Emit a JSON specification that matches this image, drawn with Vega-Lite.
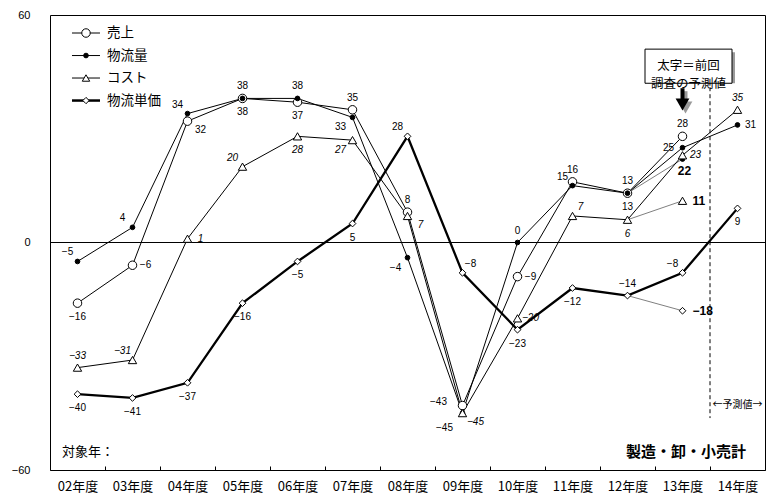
{
  "$schema": "https://vega.github.io/schema/vega-lite/v6.json",
  "width": 715,
  "height": 455,
  "autosize": {"type": "none"},
  "padding": {"left": 50, "top": 15, "right": 10, "bottom": 33},
  "background": "white",
  "config": {
    "view": {"stroke": "black", "strokeWidth": 1},
    "font": "Noto Sans CJK JP",
    "axis": {"grid": false, "domain": false, "title": null}
  },
  "data": {
    "values": [
      {"year": "02年度", "series": "売上", "value": -16, "kind": "今回"},
      {"year": "03年度", "series": "売上", "value": -6, "kind": "今回"},
      {"year": "04年度", "series": "売上", "value": 32, "kind": "今回"},
      {"year": "05年度", "series": "売上", "value": 38, "kind": "今回"},
      {"year": "06年度", "series": "売上", "value": 37, "kind": "今回"},
      {"year": "07年度", "series": "売上", "value": 35, "kind": "今回"},
      {"year": "08年度", "series": "売上", "value": 8, "kind": "今回"},
      {"year": "09年度", "series": "売上", "value": -43, "kind": "今回"},
      {"year": "10年度", "series": "売上", "value": -9, "kind": "今回"},
      {"year": "11年度", "series": "売上", "value": 16, "kind": "今回"},
      {"year": "12年度", "series": "売上", "value": 13, "kind": "今回"},
      {"year": "13年度", "series": "売上", "value": 28, "kind": "今回"},
      {"year": "02年度", "series": "物流量", "value": -5, "kind": "今回"},
      {"year": "03年度", "series": "物流量", "value": 4, "kind": "今回"},
      {"year": "04年度", "series": "物流量", "value": 34, "kind": "今回"},
      {"year": "05年度", "series": "物流量", "value": 38, "kind": "今回"},
      {"year": "06年度", "series": "物流量", "value": 38, "kind": "今回"},
      {"year": "07年度", "series": "物流量", "value": 33, "kind": "今回"},
      {"year": "08年度", "series": "物流量", "value": -4, "kind": "今回"},
      {"year": "09年度", "series": "物流量", "value": -45, "kind": "今回"},
      {"year": "10年度", "series": "物流量", "value": 0, "kind": "今回"},
      {"year": "11年度", "series": "物流量", "value": 15, "kind": "今回"},
      {"year": "12年度", "series": "物流量", "value": 13, "kind": "今回"},
      {"year": "13年度", "series": "物流量", "value": 25, "kind": "今回"},
      {"year": "14年度", "series": "物流量", "value": 31, "kind": "今回"},
      {"year": "02年度", "series": "コスト", "value": -33, "kind": "今回"},
      {"year": "03年度", "series": "コスト", "value": -31, "kind": "今回"},
      {"year": "04年度", "series": "コスト", "value": 1, "kind": "今回"},
      {"year": "05年度", "series": "コスト", "value": 20, "kind": "今回"},
      {"year": "06年度", "series": "コスト", "value": 28, "kind": "今回"},
      {"year": "07年度", "series": "コスト", "value": 27, "kind": "今回"},
      {"year": "08年度", "series": "コスト", "value": 7, "kind": "今回"},
      {"year": "09年度", "series": "コスト", "value": -45, "kind": "今回"},
      {"year": "10年度", "series": "コスト", "value": -20, "kind": "今回"},
      {"year": "11年度", "series": "コスト", "value": 7, "kind": "今回"},
      {"year": "12年度", "series": "コスト", "value": 6, "kind": "今回"},
      {"year": "13年度", "series": "コスト", "value": 23, "kind": "今回"},
      {"year": "14年度", "series": "コスト", "value": 35, "kind": "今回"},
      {"year": "02年度", "series": "物流単価", "value": -40, "kind": "今回"},
      {"year": "03年度", "series": "物流単価", "value": -41, "kind": "今回"},
      {"year": "04年度", "series": "物流単価", "value": -37, "kind": "今回"},
      {"year": "05年度", "series": "物流単価", "value": -16, "kind": "今回"},
      {"year": "06年度", "series": "物流単価", "value": -5, "kind": "今回"},
      {"year": "07年度", "series": "物流単価", "value": 5, "kind": "今回"},
      {"year": "08年度", "series": "物流単価", "value": 28, "kind": "今回"},
      {"year": "09年度", "series": "物流単価", "value": -8, "kind": "今回"},
      {"year": "10年度", "series": "物流単価", "value": -23, "kind": "今回"},
      {"year": "11年度", "series": "物流単価", "value": -12, "kind": "今回"},
      {"year": "12年度", "series": "物流単価", "value": -14, "kind": "今回"},
      {"year": "13年度", "series": "物流単価", "value": -8, "kind": "今回"},
      {"year": "14年度", "series": "物流単価", "value": 9, "kind": "今回"},
      {"year": "12年度", "series": "物流量", "value": 13, "kind": "前回予測"},
      {"year": "13年度", "series": "物流量", "value": 22, "kind": "前回予測"},
      {"year": "12年度", "series": "コスト", "value": 6, "kind": "前回予測"},
      {"year": "13年度", "series": "コスト", "value": 11, "kind": "前回予測"},
      {"year": "12年度", "series": "物流単価", "value": -14, "kind": "前回予測"},
      {"year": "13年度", "series": "物流単価", "value": -18, "kind": "前回予測"}
    ]
  },
  "encoding": {
    "x": {
      "field": "year", "type": "ordinal",
      "scale": {"domain": ["02年度","03年度","04年度","05年度","06年度","07年度","08年度","09年度","10年度","11年度","12年度","13年度","14年度"], "paddingInner": 0, "paddingOuter": 0},
      "axis": {"labelAngle": 0, "labelFontSize": 13, "labelFont": "Noto Sans CJK JP", "labelColor": "black", "tickBand": "extent", "tickSize": -4, "tickColor": "black", "labelPadding": 14, "domain": false, "title": null}
    },
    "y": {
      "field": "value", "type": "quantitative",
      "scale": {"domain": [-60, 60], "nice": false, "zero": false},
      "axis": {"values": [-60, 0, 60], "format": "d", "ticks": false, "domain": false, "labelPadding": 20, "labelFontSize": 11, "labelFont": "Liberation Sans", "labelColor": "black", "title": null}
    }
  },
  "layer": [
    {
      "transform": [{"filter": "datum.series == '売上' && datum.year == '02年度'"}],
      "mark": {"type": "rule", "color": "black", "strokeWidth": 1},
      "encoding": {"y": {"datum": 0, "type": "quantitative"}, "x": null}
    },
    {
      "transform": [{"filter": "datum.series == '売上' && datum.year == '02年度'"}],
      "mark": {"type": "rule", "color": "black", "strokeWidth": 1, "strokeDash": [4, 3]},
      "encoding": {
        "x": {"datum": "14年度", "type": "ordinal", "bandPosition": 0},
        "y": {"datum": 42.8, "type": "quantitative"},
        "y2": {"datum": -46.3}
      }
    },
    {
      "transform": [{"filter": "datum.kind == '前回予測'"}],
      "mark": {"type": "line", "color": "#808080", "strokeWidth": 1},
      "encoding": {"detail": {"field": "series"}}
    },
    {
      "transform": [{"filter": "datum.kind == '今回' && datum.series != '物流単価'"}],
      "mark": {"type": "line", "color": "black", "strokeWidth": 1},
      "encoding": {"detail": {"field": "series"}}
    },
    {
      "transform": [{"filter": "datum.kind == '今回' && datum.series == '物流単価'"}],
      "mark": {"type": "line", "color": "black", "strokeWidth": 2.3},
      "encoding": {"detail": {"field": "series"}}
    },
    {
      "transform": [{"filter": "datum.series == '売上'"}],
      "mark": {"type": "point", "shape": "circle", "stroke": "black", "fill": "white", "strokeWidth": 1, "opacity": 1, "size": 72}
    },
    {
      "transform": [{"filter": "datum.series == '物流量' && (datum.kind == '今回' || datum.year == '13年度')"}],
      "mark": {"type": "point", "shape": "circle", "stroke": "black", "fill": "black", "strokeWidth": 1, "opacity": 1, "size": 22}
    },
    {
      "transform": [{"filter": "datum.series == 'コスト' && (datum.kind == '今回' || datum.year == '13年度')"}],
      "mark": {"type": "point", "shape": "triangle-up", "stroke": "black", "fill": "white", "strokeWidth": 1, "opacity": 1, "size": 70}
    },
    {
      "transform": [{"filter": "datum.series == '物流単価' && (datum.kind == '今回' || datum.year == '13年度')"}],
      "mark": {"type": "point", "shape": "diamond", "stroke": "black", "fill": "white", "strokeWidth": 1, "opacity": 1, "size": 45}
    },
    {
      "transform": [{"filter": "datum.kind == '今回' && datum.series == '売上' && datum.year == '02年度'"}],
      "encoding": {
        "x": {"datum": "02年度", "type": "ordinal", "bandPosition": 0.6545},
        "y": {"datum": 55.25, "type": "quantitative"}
      },
      "layer": [
        {"mark": {"type": "point", "shape": "stroke", "size": 784, "stroke": "black", "strokeWidth": 1, "opacity": 1, "filled": false}},
        {"mark": {"type": "point", "shape": "circle", "size": 72, "stroke": "black", "fill": "white", "strokeWidth": 1, "opacity": 1}},
        {"mark": {"type": "text", "align": "left", "baseline": "middle", "dx": 21, "fontSize": 13.5, "font": "Noto Sans CJK JP", "color": "black"}, "encoding": {"text": {"field": "series"}}}
      ]
    },
    {
      "transform": [{"filter": "datum.kind == '今回' && datum.series == '物流量' && datum.year == '02年度'"}],
      "encoding": {
        "x": {"datum": "02年度", "type": "ordinal", "bandPosition": 0.6545},
        "y": {"datum": 49.31, "type": "quantitative"}
      },
      "layer": [
        {"mark": {"type": "point", "shape": "stroke", "size": 784, "stroke": "black", "strokeWidth": 1, "opacity": 1, "filled": false}},
        {"mark": {"type": "point", "shape": "circle", "size": 22, "stroke": "black", "fill": "black", "strokeWidth": 1, "opacity": 1}},
        {"mark": {"type": "text", "align": "left", "baseline": "middle", "dx": 21, "fontSize": 13.5, "font": "Noto Sans CJK JP", "color": "black"}, "encoding": {"text": {"field": "series"}}}
      ]
    },
    {
      "transform": [{"filter": "datum.kind == '今回' && datum.series == 'コスト' && datum.year == '02年度'"}],
      "encoding": {
        "x": {"datum": "02年度", "type": "ordinal", "bandPosition": 0.6545},
        "y": {"datum": 43.38, "type": "quantitative"}
      },
      "layer": [
        {"mark": {"type": "point", "shape": "stroke", "size": 784, "stroke": "black", "strokeWidth": 1, "opacity": 1, "filled": false}},
        {"mark": {"type": "point", "shape": "triangle-up", "size": 55, "stroke": "black", "fill": "white", "strokeWidth": 1, "opacity": 1}},
        {"mark": {"type": "text", "align": "left", "baseline": "middle", "dx": 21, "fontSize": 13.5, "font": "Noto Sans CJK JP", "color": "black"}, "encoding": {"text": {"field": "series"}}}
      ]
    },
    {
      "transform": [{"filter": "datum.kind == '今回' && datum.series == '物流単価' && datum.year == '02年度'"}],
      "encoding": {
        "x": {"datum": "02年度", "type": "ordinal", "bandPosition": 0.6545},
        "y": {"datum": 37.44, "type": "quantitative"}
      },
      "layer": [
        {"mark": {"type": "point", "shape": "stroke", "size": 784, "stroke": "black", "strokeWidth": 2.5, "opacity": 1, "filled": false}},
        {"mark": {"type": "point", "shape": "diamond", "size": 40, "stroke": "black", "fill": "white", "strokeWidth": 1, "opacity": 1}},
        {"mark": {"type": "text", "align": "left", "baseline": "middle", "dx": 21, "fontSize": 13.5, "font": "Noto Sans CJK JP", "color": "black"}, "encoding": {"text": {"field": "series"}}}
      ]
    },
    {
      "transform": [{"filter": "datum.kind == '今回' && indexof(['売上02年度','売上05年度','売上06年度','物流量12年度','コスト06年度','コスト12年度','物流単価02年度','物流単価03年度','物流単価04年度','物流単価05年度','物流単価06年度','物流単価07年度','物流単価10年度','物流単価11年度','物流単価14年度'], datum.series + datum.year) >= 0"}],
      "mark": {"type": "text", "dx": 0, "dy": 14, "fontSize": 10, "font": "Liberation Sans", "color": "black", "fontStyle": {"expr": "datum.series == 'コスト' ? 'italic' : 'normal'"}},
      "encoding": {"text": {"field": "value", "type": "quantitative", "format": "d"}}
    },
    {
      "transform": [{"filter": "datum.kind == '今回' && indexof(['売上03年度','売上10年度','物流量14年度','コスト04年度','コスト10年度','コスト13年度'], datum.series + datum.year) >= 0"}],
      "mark": {"type": "text", "dx": 13, "dy": 0, "fontSize": 10, "font": "Liberation Sans", "color": "black", "fontStyle": {"expr": "datum.series == 'コスト' ? 'italic' : 'normal'"}},
      "encoding": {"text": {"field": "value", "type": "quantitative", "format": "d"}}
    },
    {
      "transform": [{"filter": "datum.kind == '今回' && indexof(['売上04年度','コスト08年度','コスト09年度'], datum.series + datum.year) >= 0"}],
      "mark": {"type": "text", "dx": 13, "dy": 9, "fontSize": 10, "font": "Liberation Sans", "color": "black", "fontStyle": {"expr": "datum.series == 'コスト' ? 'italic' : 'normal'"}},
      "encoding": {"text": {"field": "value", "type": "quantitative", "format": "d"}}
    },
    {
      "transform": [{"filter": "datum.kind == '今回' && indexof(['売上07年度','売上08年度','売上11年度','売上12年度','売上13年度','物流量05年度','物流量06年度','物流量10年度','コスト02年度','コスト14年度','物流単価12年度'], datum.series + datum.year) >= 0"}],
      "mark": {"type": "text", "dx": 0, "dy": -12, "fontSize": 10, "font": "Liberation Sans", "color": "black", "fontStyle": {"expr": "datum.series == 'コスト' ? 'italic' : 'normal'"}},
      "encoding": {"text": {"field": "value", "type": "quantitative", "format": "d"}}
    },
    {
      "transform": [{"filter": "datum.kind == '今回' && indexof(['物流量02年度','物流量03年度','物流量04年度','物流量11年度','コスト03年度','コスト05年度','物流単価08年度','物流単価13年度'], datum.series + datum.year) >= 0"}],
      "mark": {"type": "text", "dx": -10, "dy": -9, "fontSize": 10, "font": "Liberation Sans", "color": "black", "fontStyle": {"expr": "datum.series == 'コスト' ? 'italic' : 'normal'"}},
      "encoding": {"text": {"field": "value", "type": "quantitative", "format": "d"}}
    },
    {
      "transform": [{"filter": "datum.kind == '今回' && datum.series == '物流量' && datum.year == '13年度'"}],
      "mark": {"type": "text", "dx": -14, "dy": 0, "fontSize": 10, "font": "Liberation Sans", "color": "black"},
      "encoding": {"text": {"field": "value", "type": "quantitative", "format": "d"}}
    },
    {
      "transform": [{"filter": "datum.kind == '今回' && indexof(['物流量07年度','物流量08年度','コスト07年度'], datum.series + datum.year) >= 0"}],
      "mark": {"type": "text", "dx": -12, "dy": 10, "fontSize": 10, "font": "Liberation Sans", "color": "black", "fontStyle": {"expr": "datum.series == 'コスト' ? 'italic' : 'normal'"}},
      "encoding": {"text": {"field": "value", "type": "quantitative", "format": "d"}}
    },
    {
      "transform": [{"filter": "datum.kind == '今回' && indexof(['コスト11年度','物流単価09年度'], datum.series + datum.year) >= 0"}],
      "mark": {"type": "text", "dx": 8, "dy": -9, "fontSize": 10, "font": "Liberation Sans", "color": "black", "fontStyle": {"expr": "datum.series == 'コスト' ? 'italic' : 'normal'"}},
      "encoding": {"text": {"field": "value", "type": "quantitative", "format": "d"}}
    },
    {
      "transform": [{"filter": "datum.kind == '今回' && datum.series == '売上' && datum.year == '09年度'"}],
      "mark": {"type": "text", "dx": -24, "dy": -4, "fontSize": 10, "font": "Liberation Sans", "color": "black"},
      "encoding": {"text": {"field": "value", "type": "quantitative", "format": "d"}}
    },
    {
      "transform": [{"filter": "datum.kind == '今回' && datum.series == '物流量' && datum.year == '09年度'"}],
      "mark": {"type": "text", "dx": -18, "dy": 15, "fontSize": 10, "font": "Liberation Sans", "color": "black"},
      "encoding": {"text": {"field": "value", "type": "quantitative", "format": "d"}}
    },
    {
      "transform": [{"filter": "datum.kind == '前回予測' && datum.year == '13年度' && datum.series == '物流量'"}],
      "mark": {"type": "text", "dx": 2, "dy": 12, "fontSize": 12, "fontWeight": "bold", "font": "Liberation Sans", "color": "black"},
      "encoding": {"text": {"field": "value", "type": "quantitative", "format": "d"}}
    },
    {
      "transform": [{"filter": "datum.kind == '前回予測' && datum.year == '13年度' && datum.series != '物流量'"}],
      "mark": {"type": "text", "dx": 10, "dy": 0, "align": "left", "fontSize": 12, "fontWeight": "bold", "font": "Liberation Sans", "color": "black"},
      "encoding": {"text": {"field": "value", "type": "quantitative", "format": "d"}}
    },
    {
      "transform": [{"filter": "datum.series == '売上' && datum.year == '02年度'"}],
      "mark": {"type": "bar", "width": 87, "xOffset": 9, "yOffset": 3, "fill": "#9a9a9a"},
      "encoding": {
        "x": {"datum": "13年度", "type": "ordinal"},
        "y": {"datum": 51, "type": "quantitative"},
        "y2": {"datum": 42}
      }
    },
    {
      "transform": [{"filter": "datum.series == '売上' && datum.year == '02年度'"}],
      "mark": {"type": "bar", "width": 87, "xOffset": 6, "fill": "white", "stroke": "black", "strokeWidth": 1},
      "encoding": {
        "x": {"datum": "13年度", "type": "ordinal"},
        "y": {"datum": 51, "type": "quantitative"},
        "y2": {"datum": 42}
      }
    },
    {
      "transform": [{"filter": "datum.series == '売上' && datum.year == '02年度'"}],
      "mark": {"type": "text", "text": ["太字＝前回", "調査の予測値"], "xOffset": 6, "fontSize": 12.5, "lineHeight": 18, "font": "Noto Sans CJK JP", "color": "black", "baseline": "middle"},
      "encoding": {
        "x": {"datum": "13年度", "type": "ordinal"},
        "y": {"datum": 46.5, "type": "quantitative"}
      }
    },
    {
      "transform": [{"filter": "datum.series == '売上' && datum.year == '02年度'"}],
      "mark": {"type": "rule", "color": "#9a9a9a", "strokeWidth": 4, "xOffset": 3, "yOffset": 3},
      "encoding": {
        "x": {"datum": "13年度", "type": "ordinal"},
        "y": {"datum": 40.7, "type": "quantitative"},
        "y2": {"datum": 37.0}
      }
    },
    {
      "transform": [{"filter": "datum.series == '売上' && datum.year == '02年度'"}],
      "mark": {"type": "point", "shape": "triangle-down", "size": 190, "filled": true, "color": "#9a9a9a", "opacity": 1, "xOffset": 3, "yOffset": 3},
      "encoding": {
        "x": {"datum": "13年度", "type": "ordinal"},
        "y": {"datum": 36.4, "type": "quantitative"}
      }
    },
    {
      "transform": [{"filter": "datum.series == '売上' && datum.year == '02年度'"}],
      "mark": {"type": "rule", "color": "black", "strokeWidth": 4},
      "encoding": {
        "x": {"datum": "13年度", "type": "ordinal"},
        "y": {"datum": 40.7, "type": "quantitative"},
        "y2": {"datum": 37.0}
      }
    },
    {
      "transform": [{"filter": "datum.series == '売上' && datum.year == '02年度'"}],
      "mark": {"type": "point", "shape": "triangle-down", "size": 190, "filled": true, "color": "black", "opacity": 1},
      "encoding": {
        "x": {"datum": "13年度", "type": "ordinal"},
        "y": {"datum": 36.4, "type": "quantitative"}
      }
    },
    {
      "transform": [{"filter": "datum.series == '売上' && datum.year == '02年度'"}],
      "mark": {"type": "text", "text": "←予測値→", "fontSize": 10, "font": "Noto Sans CJK JP", "color": "black"},
      "encoding": {
        "x": {"datum": "14年度", "type": "ordinal"},
        "y": {"datum": -42.9, "type": "quantitative"}
      }
    },
    {
      "transform": [{"filter": "datum.series == '売上' && datum.year == '02年度'"}],
      "mark": {"type": "text", "text": "対象年：", "fontSize": 13, "font": "Noto Sans CJK JP", "color": "black", "align": "left", "dx": 12},
      "encoding": {
        "x": {"datum": "02年度", "type": "ordinal", "bandPosition": 0},
        "y": {"datum": -55.3, "type": "quantitative"}
      }
    },
    {
      "transform": [{"filter": "datum.series == '売上' && datum.year == '02年度'"}],
      "mark": {"type": "text", "text": "製造・卸・小売計", "fontSize": 15, "fontWeight": "bold", "font": "Noto Sans CJK JP", "color": "black", "align": "right", "dx": -19},
      "encoding": {
        "x": {"datum": "14年度", "type": "ordinal", "bandPosition": 1},
        "y": {"datum": -55.3, "type": "quantitative"}
      }
    }
  ]
}
